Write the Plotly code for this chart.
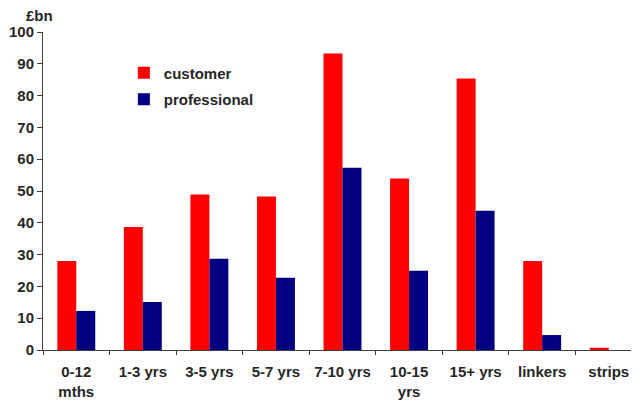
import plotly.graph_objects as go

categories = ["0-12<br>mths", "1-3 yrs", "3-5 yrs", "5-7 yrs", "7-10 yrs", "10-15<br>yrs", "15+ yrs", "linkers", "strips"]
customer = [28.0, 38.7, 48.9, 48.3, 93.2, 53.9, 85.4, 28.0, 0.7]
professional = [12.3, 15.1, 28.7, 22.7, 57.3, 24.9, 43.8, 4.7, 0.0]
y_ticks = [0, 10, 20, 30, 40, 50, 60, 70, 80, 90, 100]

FAM = "Liberation Sans, Arial, sans-serif"
TXT = "#262626"

fig = go.Figure()
fig.add_trace(go.Bar(x=categories, y=customer, name="<b>customer</b>", marker_color="#FF0000",
                     marker_line_width=0, legendgroup="a"))
fig.add_trace(go.Bar(x=categories, y=professional, name="<b>professional</b>", marker_color="#000080",
                     marker_line_width=0, legendgroup="b"))

fig.update_layout(
    width=634, height=393,
    margin=dict(l=35, r=0, t=24, b=51),
    paper_bgcolor="white", plot_bgcolor="white",
    barmode="group", bargap=0.43, bargroupgap=0,
    font=dict(family=FAM, size=15, color=TXT),
    showlegend=True,
    legend=dict(x=0.135, y=0.923, xanchor="left", yanchor="top",
                font=dict(size=15, color=TXT, family=FAM),
                bgcolor="rgba(0,0,0,0)", tracegroupgap=4,
                itemwidth=30),
    xaxis=dict(showline=True, linecolor="#404040", linewidth=1,
               ticks="outside", ticklen=4, tickcolor="#404040",
               tickson="boundaries", automargin=False,
               tickvals=categories,
               ticktext=["<b>%s</b>" % c.replace("<br>", "</b><br><b>") for c in categories],
               tickfont=dict(size=15, color=TXT, family=FAM),
               ticklabelstandoff=8,
               showgrid=False),
    yaxis=dict(range=[0, 100], tickvals=y_ticks, ticktext=["<b>%d</b>" % v for v in y_ticks],
               showline=True, linecolor="#404040", automargin=False,
               linewidth=1, ticks="outside", ticklen=5, tickcolor="#404040",
               tickfont=dict(size=15, color=TXT, family=FAM), showgrid=False, zeroline=False),
    annotations=[dict(text="<b>£bn</b>", x=0.0, y=1.0, xref="paper", yref="paper",
                      xanchor="left", yanchor="bottom", showarrow=False, xshift=-19, yshift=6,
                      font=dict(size=15, color=TXT, family=FAM))],
)

fig.write_html("out.html")
